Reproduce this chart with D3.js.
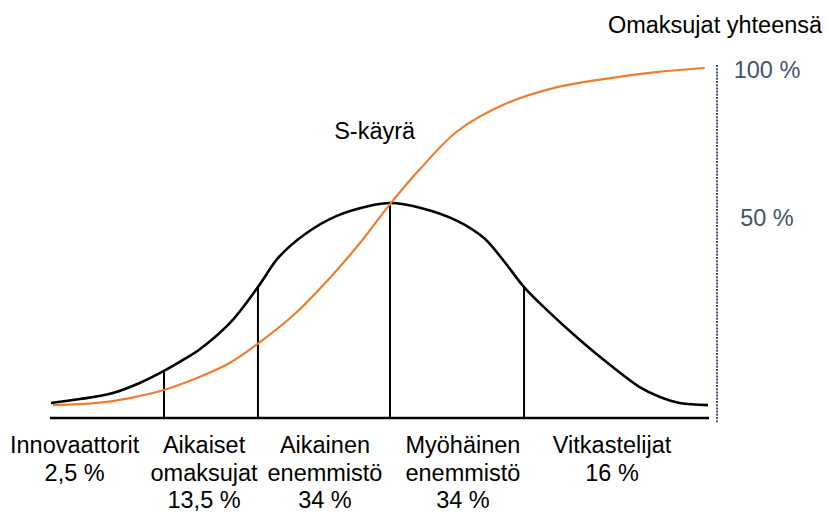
<!DOCTYPE html>
<html>
<head>
<meta charset="utf-8">
<script src="https://cdn.jsdelivr.net/npm/d3@7"></script>
<style>
  html, body { margin: 0; padding: 0; background: #fff; }
  svg { display: block; font-family: "Liberation Sans", Arial, sans-serif; }
</style>
</head>
<body>
<svg id="chart" width="826" height="512"></svg>
<script>
// ---- Data ----
// Bell curve: position along the adoption timeline (0–100) and relative height (0–100)
const bellX = [0, 4.4, 9.4, 13.5, 17.2, 20.1, 22.7, 27.5, 31.5, 34.7, 38.7, 43.5, 48.4, 51.6,
               56.3, 61.9, 65.9, 68.8, 72.0, 75.5, 80.5, 85.5, 89.6, 92.7, 95.7, 100];
const bellY = [7.0, 8.8, 11.6, 16.3, 21.9, 27.0, 32.1, 45.1, 60.9, 74.9, 85.6, 94.0, 98.6, 100,
               97.7, 91.6, 83.7, 73.5, 60.9, 50.2, 36.3, 23.7, 14.4, 9.8, 7.0, 6.0];
// S-curve: cumulative adoption (%)
const sX = [0.3, 7.0, 12.0, 17.2, 22.2, 27.2, 31.4, 37.1, 42.0, 46.9, 51.6, 56.3, 61.9, 69.1,
            77.2, 84.3, 92.4, 99.5];
const sY = [3.7, 4.3, 5.7, 8.0, 11.4, 15.7, 21.1, 29.7, 39.1, 49.7, 61.1, 71.4, 82.0, 89.7,
            94.6, 96.9, 98.9, 100];
// Category boundaries (vertical dividers) on the timeline
const dividers = [17.2, 31.5, 51.6, 72.0];
// Categories and shares
const categoryLines = [["Innovaattorit"], ["Aikaiset", "omaksujat"], ["Aikainen", "enemmistö"],
                       ["Myöhäinen", "enemmistö"], ["Vitkastelijat"]];
const shares = [2.5, 13.5, 34, 34, 16];
const labelAt = [3.6, 23.3, 41.7, 62.7, 85.4];
// Right-hand axis
const axisTicks = [100, 50];
const axisTitle = "Omaksujat yhteensä";
const curveLabel = "S-käyrä";

// ---- Layout ----
const svg = d3.select("#chart");
const x = d3.scaleLinear().domain([0, 100]).range([51, 708]);
const yBell = d3.scaleLinear().domain([0, 100]).range([418, 203]);
const yCum = d3.scaleLinear().domain([0, 100]).range([418, 68]);
const yAxisLabels = d3.scaleLinear().domain([0, 100]).range([365.6, 69.6]);
const axisX = 717;
const fontSize = 23.5;

// baseline
svg.append("line")
  .attr("x1", x(0) - 1).attr("x2", x(100) + 1)
  .attr("y1", yBell(0)).attr("y2", yBell(0))
  .attr("stroke", "#000").attr("stroke-width", 2.6);

// dividers
const bellMap = new Map(bellX.map((v, i) => [v, bellY[i]]));
svg.selectAll("line.div").data(dividers).join("line")
  .attr("class", "div")
  .attr("x1", d => x(d)).attr("x2", d => x(d))
  .attr("y1", yBell(0)).attr("y2", d => yBell(bellMap.get(d)))
  .attr("stroke", "#000").attr("stroke-width", 2);

// bell curve
const bellData = bellX.map((v, i) => [v, bellY[i]]);
svg.append("path")
  .datum(bellData)
  .attr("fill", "none").attr("stroke", "#000").attr("stroke-width", 2.6)
  .attr("d", d3.line().x(d => x(d[0])).y(d => yBell(d[1])).curve(d3.curveCatmullRom.alpha(0.5)));

// S-curve
const sData = sX.map((v, i) => [v, sY[i]]);
svg.append("path")
  .datum(sData)
  .attr("fill", "none").attr("stroke", "#ED7D31").attr("stroke-width", 2.2)
  .attr("d", d3.line().x(d => x(d[0])).y(d => yCum(d[1])).curve(d3.curveCatmullRom.alpha(0.5)));

// dotted right axis
svg.append("line")
  .attr("x1", axisX).attr("x2", axisX)
  .attr("y1", 65).attr("y2", 423)
  .attr("stroke", "#44546A").attr("stroke-width", 2)
  .attr("stroke-dasharray", "2,1.2");

svg.selectAll("text.tick").data(axisTicks).join("text")
  .attr("class", "tick")
  .attr("x", 767).attr("y", d => yAxisLabels(d)).attr("dy", "0.35em")
  .attr("text-anchor", "middle")
  .attr("font-size", fontSize).attr("fill", "#44546A")
  .text(d => d + " %");

svg.append("text")
  .attr("x", axisX - 2).attr("y", 33)
  .attr("text-anchor", "middle").attr("font-size", fontSize).attr("fill", "#000")
  .text(axisTitle);

svg.append("text")
  .attr("x", x(43.1)).attr("y", 139)
  .attr("text-anchor", "start").attr("font-size", fontSize).attr("fill", "#000")
  .text(curveLabel);

// category labels
const fmt = v => String(v).replace(".", ",") + " %";
const lineGap = 27.5;
const groups = svg.selectAll("g.cat").data(categoryLines).join("g").attr("class", "cat");
groups.each(function(lines, i) {
  const g = d3.select(this);
  const all = lines.concat([fmt(shares[i])]);
  g.selectAll("text").data(all).join("text")
    .attr("x", x(labelAt[i]))
    .attr("y", (d, j) => 453 + j * lineGap)
    .attr("text-anchor", "middle")
    .attr("font-size", fontSize).attr("fill", "#000")
    .text(d => d);
});
</script>
</body>
</html>
